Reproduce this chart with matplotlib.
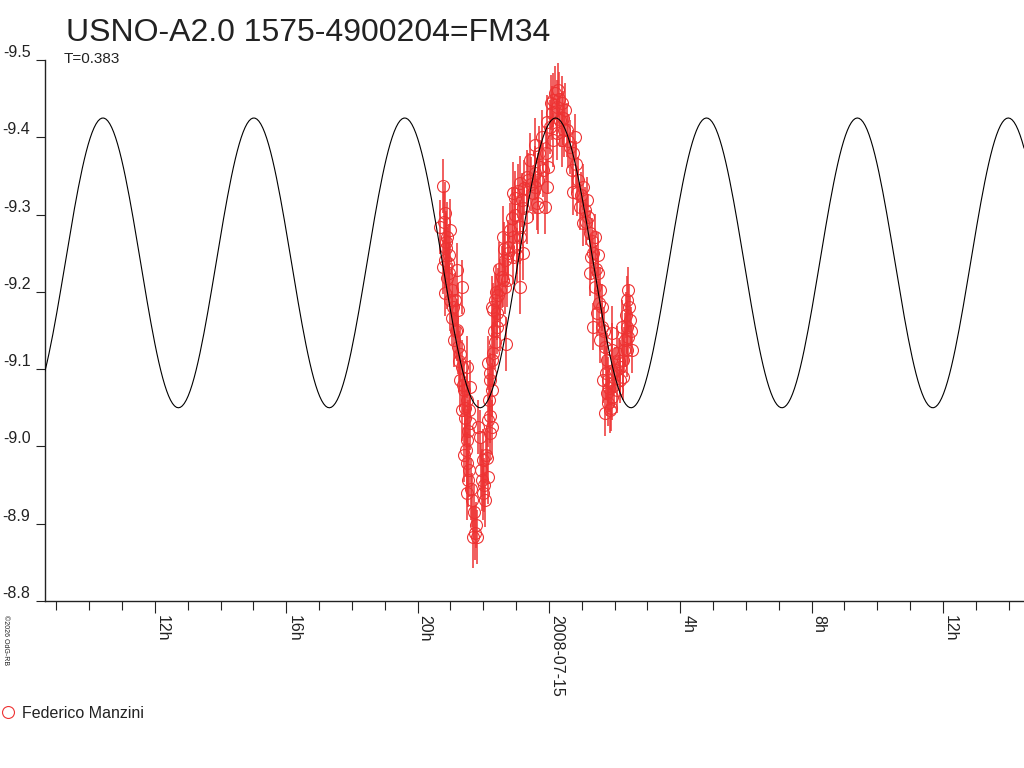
import matplotlib
matplotlib.use('Agg')
import matplotlib.pyplot as plt
import numpy as np

plt.rcParams['font.family'] = ['Liberation Sans', 'DejaVu Sans']

# time in hours relative to 2008-07-15 00:00 UT, magnitudes
obs_hours = [
    # falling branch before the minimum
    -3.23, -3.17, -3.32, -3.02, -3.11, -3.17, -3.23, -3.08, -2.80, -3.17,
    -2.65, -3.02, -2.77, -2.96, -2.80, -2.89, -2.77, -2.65, -2.50, -2.71,
    -2.41, -2.65, -2.50, -2.56, -2.50, -2.41, -2.59, -2.50, -2.47, -2.50,
    -2.35, -2.25, -2.19, -2.31, -2.22, -3.14, -3.05, -3.11, -2.96, -2.86,
    -2.71, -2.59, -2.44, -3.20, -3.13, -3.05, -2.92, -2.84, -2.74, -2.62,
    -2.55, -2.46, -2.53, -2.44, -2.38, -2.28,
    # rising branch
    -2.16, -2.10, -2.01, -2.04, -2.01, -1.95, -1.86, -1.92, -1.80, -1.86,
    -1.74, -1.80, -1.74, -1.80, -1.80, -1.86, -1.71, -1.74, -1.65, -1.58,
    -1.74, -1.58, -1.49, -1.65, -1.71, -1.49, -1.43, -1.55, -1.34, -1.40,
    -1.31, -1.28, -1.34, -1.25, -1.40, -1.10, -0.98, -1.25, -1.10, -1.13,
    -0.88, -0.98, -0.88, -0.79, -0.88, -0.67, -1.10, -1.04, -0.82, -0.79,
    -0.88, -0.67, -0.64, -0.49, -0.43, -0.43, -0.34, -0.34, -0.37, -0.12,
    -0.06, -0.18, -0.03, -0.27, -0.43, -0.58, -2.07, -1.98, -1.89, -1.83,
    -1.68, -1.62, -1.52, -1.37, -1.20, -1.02, -0.95, -0.75, -0.55, -0.30,
    -0.20, -0.10,
    # maximum
    -0.06, 0.09, 0.18, 0.27, 0.24, 0.40, 0.43, 0.24, 0.55, 0.40,
    0.64, 0.12, 0.03, 0.34, 0.49, 0.12, 0.06, 0.30, 0.45, 0.58,
    # falling branch after the maximum
    0.73, 0.79, 0.70, 0.88, 0.85, 0.73, 0.94, 1.04, 1.16, 1.19,
    1.04, 1.25, 1.40, 1.34, 1.49, 1.25, 1.49, 1.40, 1.55, 1.61,
    1.46, 1.34, 1.61, 1.55, 1.71, 1.77, 1.65, 1.80, 1.92, 1.92,
    1.95, 2.07, 2.16, 2.25, 2.38, 2.41, 2.38, 2.38, 2.41, 2.22,
    1.77, 1.80, 1.92, 2.07, 2.16, 2.25, 1.71, 1.86, 2.47, 2.53,
    2.31, 2.01, 1.10, 1.31, 0.82, 0.98, 1.13, 1.28, 1.43, 1.52,
    1.68, 1.74, 1.83, 1.89, 1.98, 2.12, 2.28, 2.35, 2.44, 2.50,
]
obs_mag = [
    -9.337, -9.302, -9.284, -9.280, -9.271, -9.241, -9.232, -9.237, -9.228, -9.199,
    -9.206, -9.190, -9.177, -9.166, -9.151, -9.138, -9.129, -9.103, -9.103, -9.086,
    -9.077, -9.047, -9.060, -9.037, -9.008, -9.030, -8.989, -8.979, -8.957, -8.940,
    -8.931, -8.888, -8.883, -8.883, -8.898, -9.257, -9.248, -9.218, -9.202, -9.190,
    -9.119, -9.073, -9.047, -9.290, -9.265, -9.225, -9.180, -9.150, -9.110, -9.080,
    -9.050, -9.020, -8.995, -8.970, -8.945, -8.915,
    -9.025, -9.012, -8.983, -8.957, -8.940, -8.931, -8.961, -8.989, -9.017, -9.034,
    -9.025, -9.040, -9.073, -9.086, -9.095, -9.108, -9.121, -9.112, -9.135, -9.155,
    -9.180, -9.173, -9.164, -9.190, -9.177, -9.202, -9.219, -9.196, -9.206, -9.215,
    -9.132, -9.215, -9.241, -9.258, -9.271, -9.245, -9.258, -9.250, -9.271, -9.296,
    -9.206, -9.248, -9.271, -9.250, -9.284, -9.297, -9.328, -9.322, -9.319, -9.309,
    -9.341, -9.349, -9.345, -9.328, -9.336, -9.354, -9.345, -9.310, -9.315, -9.310,
    -9.336, -9.358, -9.362, -9.362, -9.390, -9.371, -8.970, -8.950, -8.985, -9.060,
    -9.150, -9.200, -9.230, -9.255, -9.280, -9.300, -9.330, -9.335, -9.340, -9.380,
    -9.400, -9.380,
    -9.420, -9.431, -9.457, -9.461, -9.439, -9.444, -9.425, -9.406, -9.409, -9.397,
    -9.387, -9.397, -9.413, -9.422, -9.435, -9.448, -9.445, -9.450, -9.410, -9.395,
    -9.380, -9.400, -9.358, -9.345, -9.328, -9.329, -9.310, -9.336, -9.319, -9.297,
    -9.289, -9.276, -9.271, -9.250, -9.248, -9.224, -9.224, -9.206, -9.202, -9.180,
    -9.173, -9.155, -9.155, -9.138, -9.129, -9.112, -9.086, -9.086, -9.125, -9.147,
    -9.095, -9.121, -9.103, -9.112, -9.125, -9.142, -9.155, -9.190, -9.202, -9.155,
    -9.069, -9.056, -9.064, -9.073, -9.086, -9.090, -9.043, -9.047, -9.164, -9.125,
    -9.138, -9.099, -9.306, -9.266, -9.365, -9.325, -9.290, -9.245, -9.230, -9.185,
    -9.150, -9.095, -9.075, -9.050, -9.080, -9.110, -9.125, -9.170, -9.180, -9.150,
]
obs_err = [
    0.035, 0.040, 0.035, 0.040, 0.045, 0.035, 0.035, 0.045, 0.035, 0.030,
    0.035, 0.040, 0.035, 0.035, 0.040, 0.035, 0.035, 0.035, 0.040, 0.035,
    0.035, 0.040, 0.035, 0.035, 0.040, 0.035, 0.035, 0.040, 0.035, 0.035,
    0.035, 0.035, 0.035, 0.040, 0.030, 0.045, 0.040, 0.040, 0.035, 0.035,
    0.035, 0.035, 0.035, 0.040, 0.040, 0.040, 0.035, 0.035, 0.040, 0.035,
    0.035, 0.040, 0.035, 0.035, 0.040, 0.035,
    0.035, 0.035, 0.040, 0.040, 0.035, 0.035, 0.035, 0.035, 0.035, 0.035,
    0.035, 0.035, 0.035, 0.035, 0.035, 0.035, 0.040, 0.035, 0.035, 0.035,
    0.040, 0.035, 0.040, 0.035, 0.035, 0.040, 0.040, 0.035, 0.035, 0.035,
    0.035, 0.035, 0.035, 0.035, 0.040, 0.035, 0.035, 0.035, 0.035, 0.040,
    0.035, 0.035, 0.035, 0.035, 0.035, 0.035, 0.040, 0.035, 0.035, 0.035,
    0.035, 0.035, 0.035, 0.035, 0.035, 0.035, 0.035, 0.035, 0.035, 0.035,
    0.035, 0.035, 0.035, 0.035, 0.035, 0.035, 0.035, 0.035, 0.035, 0.035,
    0.035, 0.035, 0.035, 0.035, 0.035, 0.035, 0.035, 0.035, 0.035, 0.035,
    0.035, 0.035,
    0.035, 0.035, 0.035, 0.035, 0.035, 0.035, 0.035, 0.035, 0.035, 0.035,
    0.035, 0.035, 0.035, 0.035, 0.035, 0.035, 0.035, 0.035, 0.035, 0.035,
    0.030, 0.030, 0.030, 0.030, 0.030, 0.030, 0.030, 0.030, 0.030, 0.030,
    0.030, 0.030, 0.030, 0.030, 0.030, 0.030, 0.030, 0.030, 0.030, 0.030,
    0.030, 0.030, 0.030, 0.030, 0.030, 0.035, 0.030, 0.030, 0.035, 0.035,
    0.030, 0.035, 0.035, 0.035, 0.035, 0.035, 0.035, 0.030, 0.030, 0.035,
    0.030, 0.030, 0.030, 0.030, 0.030, 0.030, 0.030, 0.030, 0.030, 0.030,
    0.035, 0.030, 0.030, 0.030, 0.030, 0.030, 0.030, 0.030, 0.030, 0.030,
    0.030, 0.035, 0.030, 0.030, 0.030, 0.030, 0.030, 0.030, 0.030, 0.030,
]

# fitted model (double wave, period T days)
period_days = 0.383
model_mean = -9.2375
model_amp = 0.1875
model_peak_hour = -13.585

x_ticks_major = [-12, -8, -4, 0, 4, 8, 12]
x_tick_labels = ['12h', '16h', '20h', '2008-07-15', '4h', '8h', '12h']
y_ticks = [-9.5, -9.4, -9.3, -9.2, -9.1, -9.0, -8.9, -8.8]
y_tick_labels = ['-9.5', '-9.4', '-9.3', '-9.2', '-9.1', '-9.0', '-8.9', '-8.8']

x_left, x_right = -15.35, 14.47

fig = plt.figure(figsize=(10.24, 7.68), dpi=100)
ax = fig.add_axes([45 / 1024, 1 - 601 / 768, 1 - 45 / 1024, (601 - 60) / 768])

red = '#ee3333'
ax.errorbar(obs_hours, obs_mag, yerr=obs_err, fmt='none', ecolor=red,
            elinewidth=1.1, capsize=0, zorder=2)
pts, = ax.plot(obs_hours, obs_mag, 'o', ms=8.6, mfc='none', mec=red, mew=0.8,
               zorder=3, label='Federico Manzini')

half_period_h = period_days * 24 / 2
t_model = np.linspace(x_left, x_right, 500)
m_model = model_mean - model_amp * np.cos(2 * np.pi * (t_model - model_peak_hour) / half_period_h)
ax.plot(t_model, m_model, color='black', lw=0.8, zorder=4)

ax.set_xlim(x_left, x_right)
ax.set_ylim(-8.8, -9.5)

ax.set_xticks(x_ticks_major)
ax.set_xticklabels(x_tick_labels)
ax.set_xticks(np.arange(-15, 15, 1), minor=True)
ax.set_yticks(y_ticks)
ax.set_yticklabels(y_tick_labels)

for s in ['top', 'right']:
    ax.spines[s].set_visible(False)
for s in ['left', 'bottom']:
    ax.spines[s].set_color('#222222')
    ax.spines[s].set_linewidth(1.0)

ax.tick_params(axis='y', direction='out', length=6.5, width=0.8, pad=4,
               labelsize=11.5, colors='#222222')
ax.tick_params(axis='x', which='major', direction='out', length=8.6, width=0.8,
               pad=1.5, labelsize=11.5, colors='#222222')
ax.tick_params(axis='x', which='minor', direction='out', length=6.5, width=0.8,
               colors='#222222')
for lab in ax.get_yticklabels():
    lab.set_va('bottom')
for lab in ax.get_xticklabels():
    lab.set_rotation(-90)
    lab.set_ha('left')
    lab.set_va('top')

fig.text(66 / 1024, 1 - 41 / 768, 'USNO-A2.0 1575-4900204=FM34', fontsize=23,
         color='#222222', va='baseline', ha='left')
fig.text(64 / 1024, 1 - 63 / 768, 'T=0.383', fontsize=11, color='#222222',
         va='baseline', ha='left')
fig.text(2 / 1024, 1 - 615 / 768, '©2026 OdG-RB', fontsize=5, rotation=-90,
         color='#222222', va='top', ha='left')

fig.legend(handles=[pts], loc='center left', bbox_to_anchor=(0.0, 1 - 713 / 768),
           frameon=False, handlelength=0.8, handletextpad=0.5, borderpad=0.1,
           borderaxespad=0.0, fontsize=11.5, labelcolor='#222222')

fig.savefig('out.png', dpi=100)
